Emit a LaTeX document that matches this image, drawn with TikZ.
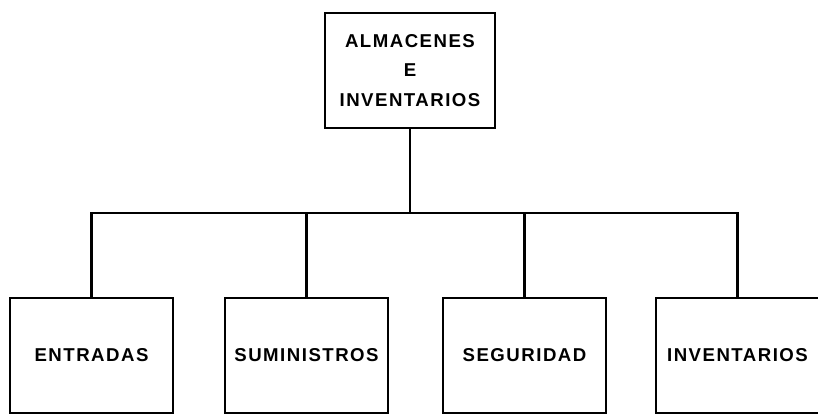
\documentclass[tikz,border=0pt]{standalone}
\usepackage{fontspec}
\newfontfamily\boxfont[LetterSpace=8]{Liberation Sans}
\usetikzlibrary{positioning}
\tikzset{
  unit/.style={draw, line width=0.8pt, font=\boxfont\bfseries\fontsize{10.6}{13}\selectfont, align=center,
    minimum width=3.26cm, minimum height=2.3cm, inner sep=0pt},
  link/.style={line width=1.7pt}
}
\begin{document}
\begin{tikzpicture}[x=0.02cm,y=-0.02cm]
\useasboundingbox (0,0) rectangle (818,415);
\clip (0,0) rectangle (818,415);
% top box
\node[unit, minimum width=3.4cm] (alm) at (410,70.5) {ALMACENES\\[4pt]E\\[4pt]INVENTARIOS};
% bottom boxes
\node[unit] (ent) at (91.5,355.5) {ENTRADAS};
\node[unit] (sum) at (306.5,355.5) {SUMINISTROS};
\node[unit] (seg) at (524.5,355.5) {SEGURIDAD};
\node[unit] (inv) at (737.5,355.5) {INVENTARIOS};
% lines
\coordinate (bus) at (410,213);
\draw[link] (alm.south) -- (bus);
\draw[link] (ent.north) |- (bus) -| (inv.north);
\draw[link] (sum.north) -- (sum.north |- bus);
\draw[link] (seg.north) -- (seg.north |- bus);
\end{tikzpicture}
\end{document}
